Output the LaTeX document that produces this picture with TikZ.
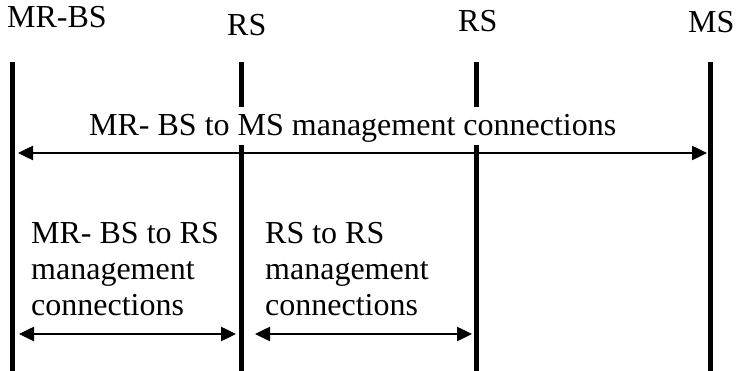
\documentclass[tikz,border=0pt]{standalone}
\usepackage{fontspec}
\setmainfont{Liberation Serif}
\usetikzlibrary{arrows.meta}

\begin{document}
\begin{tikzpicture}[x=1pt,y=-1pt,
	lifeline/.style={line width=5pt},
	conn/.style={line width=2.5pt,{Triangle[length=15pt,width=14pt]}-{Triangle[length=15pt,width=14pt]}},
	lbl/.style={inner sep=0pt,anchor=base west,font=\fontsize{32}{36}\selectfont},
	blk/.style={inner sep=0pt,anchor=north west,align=left,font=\fontsize{32}{36}\selectfont}]
	\useasboundingbox (0,0) rectangle (737,371);
	
	% stations
	\node[lbl] (bs) at (7,28) {MR-BS};
	\node[lbl] (rsa) at (227,36) {RS};
	\node[lbl] (rsb) at (458,32) {RS};
	\node[lbl] (ms) at (688,33) {MS};
	
	% time lines
	\coordinate (bsT) at (12,62);   \coordinate (bsB) at (12,371);
	\coordinate (rsaT) at (241,62); \coordinate (rsaM) at (241,107);
	\coordinate (rsaN) at (241,145); \coordinate (rsaB) at (241,371);
	\coordinate (rsbT) at (476,62); \coordinate (rsbM) at (476,107);
	\coordinate (rsbN) at (476,145); \coordinate (rsbB) at (476,371);
	\coordinate (msT) at (710,62);  \coordinate (msB) at (710,371);
	\draw[lifeline] (bsT) -- (bsB);
	\draw[lifeline] (rsaT) -- (rsaM);
	\draw[lifeline] (rsaN) -- (rsaB);
	\draw[lifeline] (rsbT) -- (rsbM);
	\draw[lifeline] (rsbN) -- (rsbB);
	\draw[lifeline] (msT) -- (msB);
	
	% connections
	\node[lbl] (top) at (89,136) {MR- BS to MS management connections};
	\coordinate (topL) at (18,153); \coordinate (topR) at (707,153);
	\draw[conn] (topL) -- (topR);
	
	\node[blk] (left) at (31,222) {MR- BS to RS\\management\\connections};
	\node[blk] (right) at (265,222) {RS to RS\\management\\connections};
	\coordinate (lA) at (19,334); \coordinate (lB) at (236,334);
	\coordinate (rA) at (255,334); \coordinate (rB) at (472,334);
	\draw[conn] (lA) -- (lB);
	\draw[conn] (rA) -- (rB);
\end{tikzpicture}
\end{document}
